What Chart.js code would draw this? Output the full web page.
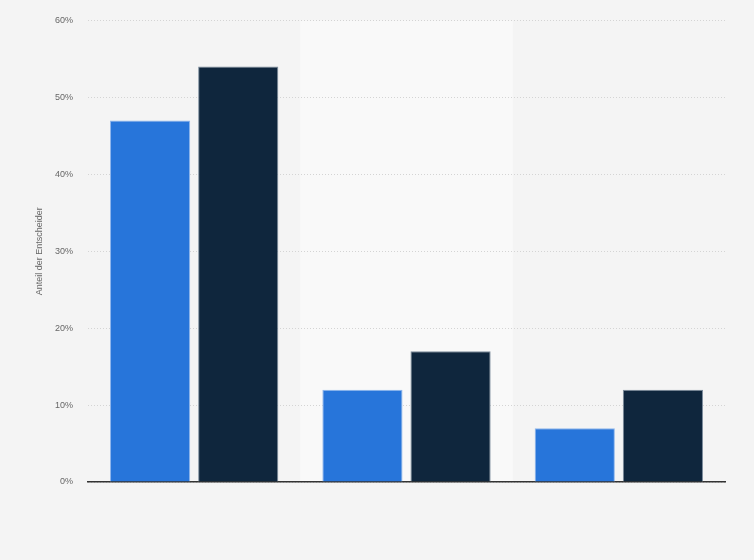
<!DOCTYPE html>
<html>
<head>
<meta charset="utf-8">
<script src="https://cdn.jsdelivr.net/npm/chart.js@4"></script>
<style>
  html, body { margin: 0; padding: 0; background: #f4f4f4; }
  #wrap { width: 754px; height: 560px; }
</style>
</head>
<body>
<div id="wrap"><canvas id="myChart"></canvas></div>
<script>
/* chart values */
var categories = ['', '', ''];
var series_a = [47, 12, 7];
var series_b = [54, 17, 12];
var y_ticks = [0, 10, 20, 30, 40, 50, 60];

/* paints the lighter band behind the middle category, before grid and axes */
const bandPlugin = {
  id: 'band',
  beforeDraw: function(chart) {
    const ctx = chart.ctx;
    const area = chart.chartArea;
    const step = (area.right - area.left) / categories.length;
    ctx.save();
    ctx.fillStyle = '#f9f9f9';
    ctx.fillRect(area.left + step, area.top, step, area.bottom - area.top);
    ctx.restore();
  }
};

const ctx = document.getElementById('myChart');
const myChart = new Chart(ctx, {
  type: 'bar',
  data: {
    labels: categories,
    datasets: [{
        label: 'A',
        data: series_a,
        backgroundColor: '#2775da',
        borderColor: '#8fb6ec',
        borderWidth: 1,
        categoryPercentage: 0.83,
        barPercentage: 0.91
      },
      {
        label: 'B',
        data: series_b,
        backgroundColor: '#0f263d',
        borderColor: '#7c8c9c',
        borderWidth: 1,
        categoryPercentage: 0.83,
        barPercentage: 0.91
    }]
  },
  options: {
    responsive: true,
    maintainAspectRatio: false,
    animation: false,
    layout: {
      padding: { left: 34, right: 29, top: 16, bottom: 70 }
    },
    plugins: {
      legend: { display: false },
      tooltip: { enabled: false }
    },
    scales: {
      x: {
        grid: { display: false },
        border: { display: true, color: '#333333', width: 1.5 },
        ticks: { display: false }
      },
      y: {
        min: 0,
        max: 60,
        afterBuildTicks: function(scale) {
          scale.ticks = y_ticks.map(function(v) { return { value: v }; });
        },
        afterFit: function(scale) { scale.width = 54; },
        grid: { color: '#d4d4d4', tickLength: 0 },
        border: { display: false, dash: [1, 2] },
        ticks: {
          color: '#666666',
          font: { family: 'Arial, Liberation Sans', size: 9 },
          padding: 15,
          callback: function(v) { return v + '%'; }
        },
        title: {
          display: true,
          text: 'Anteil der Entscheider',
          color: '#666666',
          font: { family: 'Arial, Liberation Sans', size: 9 },
          padding: 0
        }
      }
    }
  },
  plugins: [bandPlugin]
});
</script>
</body>
</html>
